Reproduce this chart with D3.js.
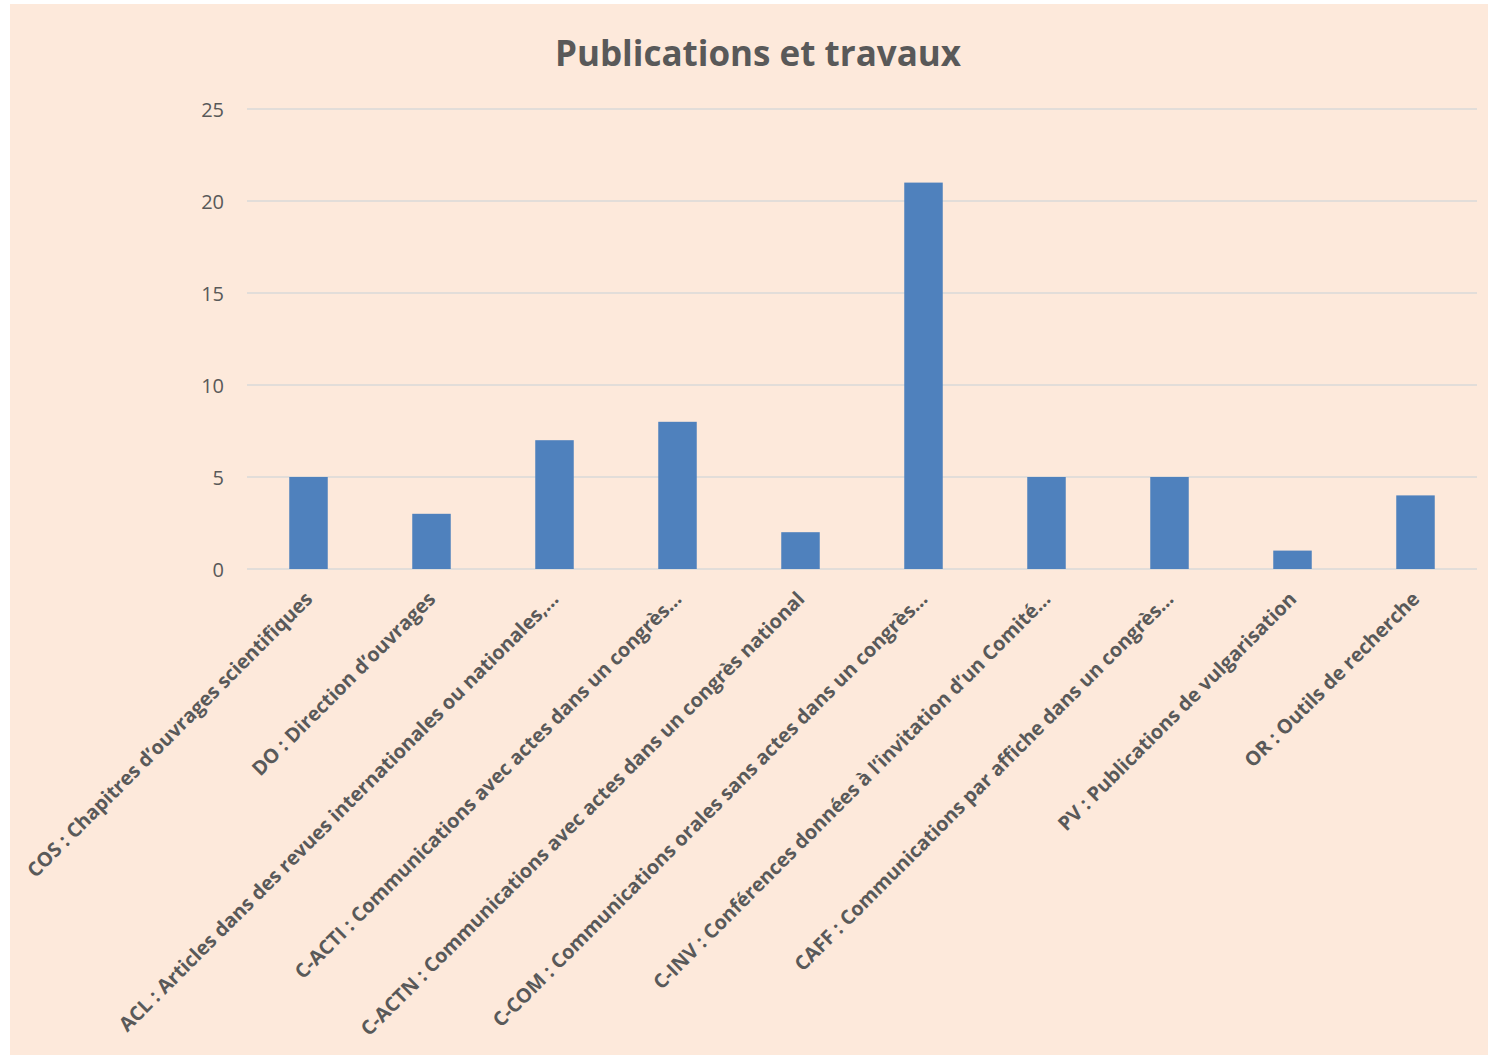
<!DOCTYPE html>
<html>
<head>
<meta charset="utf-8">
<script src="https://cdn.jsdelivr.net/npm/d3@7"></script>
<style>
  html, body { margin: 0; padding: 0; background: #fff; }
  svg { display: block; }
</style>
</head>
<body>
<div id="chart"></div>
<script>
// Données
const categories = [
  'COS : Chapitres d’ouvrages scientifiques',
  'DO : Direction d’ouvrages',
  'ACL : Articles dans des revues internationales ou nationales,…',
  'C-ACTI : Communications avec actes dans un congrès…',
  'C-ACTN : Communications avec actes dans un congrès national',
  'C-COM : Communications orales sans actes dans un congrès…',
  'C-INV : Conférences données à l’invitation d’un Comité…',
  'CAFF : Communications par affiche dans un congrès…',
  'PV : Publications de vulgarisation',
  'OR : Outils de recherche'
];
const values = [5, 3, 7, 8, 2, 21, 5, 5, 1, 4];
const yTicks = [0, 5, 10, 15, 20, 25];
const title = 'Publications et travaux';

const W = 1488, H = 1056;
const FONT = '"Open Sans", Carlito, Calibri, sans-serif';
const TEXT = '#595959';

const svg = d3.select('#chart').append('svg')
  .attr('width', W).attr('height', H);

// fond pêche de la zone du graphique
svg.append('rect')
  .attr('x', 10).attr('y', 4).attr('width', W - 10).attr('height', H - 5)
  .attr('fill', '#FDE9DB');

// zone de tracé
const plot = { left: 247, right: 1477, top: 109, bottom: 569 };

const x = d3.scaleBand()
  .domain(categories)
  .range([plot.left, plot.right])
  .paddingInner(0.687).paddingOuter(0.3435);

const y = d3.scaleLinear().domain([0, 25]).range([plot.bottom, plot.top]);

// titre
svg.append('text')
  .attr('x', 758).attr('y', 52)
  .attr('text-anchor', 'middle').attr('dominant-baseline', 'central')
  .attr('font-family', FONT).attr('font-weight', 700).attr('font-size', 35)
  .attr('fill', TEXT).text(title);

// grille horizontale
svg.append('g').selectAll('line').data(yTicks).join('line')
  .attr('x1', plot.left).attr('x2', plot.right)
  .attr('y1', d => y(d)).attr('y2', d => y(d))
  .attr('stroke', '#D9D9D9').attr('stroke-width', 1.5);

// étiquettes de l'axe Y
svg.append('g').selectAll('text').data(yTicks).join('text')
  .attr('x', 224).attr('y', d => y(d))
  .attr('text-anchor', 'end').attr('dominant-baseline', 'central')
  .attr('font-family', FONT).attr('font-size', 20)
  .attr('fill', TEXT).text(d => d);

// barres
svg.append('g').selectAll('rect').data(values).join('rect')
  .attr('x', (d, i) => x(categories[i]))
  .attr('width', x.bandwidth())
  .attr('y', d => y(d))
  .attr('height', d => y(0) - y(d))
  .attr('fill', '#4F81BD');

// étiquettes des catégories, tournées à -45°
svg.append('g').selectAll('text').data(categories).join('text')
  .attr('transform', d => `translate(${x(d) + x.bandwidth() / 2},${plot.bottom + 26}) rotate(-45)`)
  .attr('text-anchor', 'end').attr('dominant-baseline', 'central')
  .attr('font-family', FONT).attr('font-weight', 700).attr('font-size', 19.8)
  .attr('fill', TEXT).text(d => d);
</script>
</body>
</html>
